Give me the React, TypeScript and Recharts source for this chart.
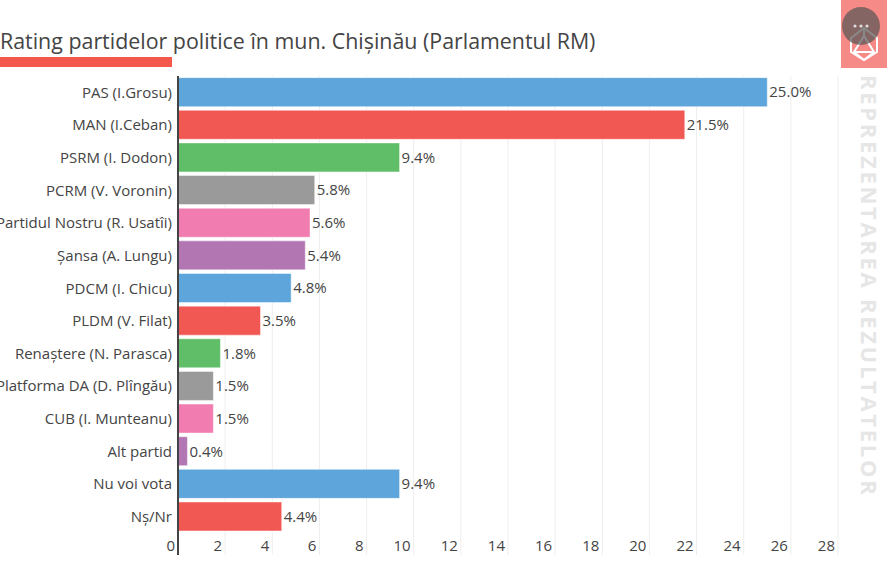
import React from "react";
import { BarChart, Bar, XAxis, YAxis, CartesianGrid, Cell, LabelList } from "recharts";

const categories = [
  "PAS (I.Grosu)",
  "MAN (I.Ceban)",
  "PSRM (I. Dodon)",
  "PCRM (V. Voronin)",
  "Partidul Nostru (R. Usatîi)",
  "Șansa (A. Lungu)",
  "PDCM (I. Chicu)",
  "PLDM (V. Filat)",
  "Renaștere (N. Parasca)",
  "Platforma DA (D. Plîngău)",
  "CUB (I. Munteanu)",
  "Alt partid",
  "Nu voi vota",
  "Nș/Nr",
];

const values = [25.0, 21.5, 9.4, 5.8, 5.6, 5.4, 4.8, 3.5, 1.8, 1.5, 1.5, 0.4, 9.4, 4.4];

const xTicks = [0, 2, 4, 6, 8, 10, 12, 14, 16, 18, 20, 22, 24, 26, 28];

const COLORS = ["#5DA5DA", "#F15854", "#60BD68", "#9A9A9A", "#F17CB0", "#B276B2"];

const FONT = "'Open Sans', 'Noto Sans', sans-serif";
const PLOT_TOP = 76;
const PLOT_BOTTOM = 533;
const GRID_END = 555;

const data = categories.map((name, i) => ({ name, value: values[i] }));

const XTick = (props: any) => {
  const { x, payload } = props;
  const isZero = payload.value === 0;
  return (
    <g>
      {isZero ? (
        <line x1={x} x2={x} y1={PLOT_TOP} y2={GRID_END} stroke="#444" strokeWidth={2} />
      ) : (
        <line x1={x} x2={x} y1={PLOT_BOTTOM} y2={GRID_END} stroke="#eee" strokeWidth={1} />
      )}
      <text x={x - 3} y={551} textAnchor="end" fill="#444" fontSize={15} fontFamily={FONT}>
        {payload.value}
      </text>
    </g>
  );
};

const Logo = () => (
  <svg width={46} height={68} style={{ position: "absolute", left: 841, top: 0 }}>
    <rect x={0} y={0} width={46} height={68} fill="#F58A86" />
    <g stroke="#fff" strokeWidth={2} fill="none">
      <polygon points="23,28 36,38 36,52 23,60 10,52 10,38" />
      <polygon points="23,36 33,52 13,52" />
      <line x1={23} y1={28} x2={23} y2={36} />
      <line x1={23} y1={60} x2={13} y2={52} />
      <line x1={23} y1={60} x2={33} y2={52} />
    </g>
    <circle cx={20} cy={26} r={19} fill="#555" opacity={0.7} />
    <circle cx={14} cy={26} r={1.6} fill="#ddd" />
    <circle cx={20} cy={26} r={1.6} fill="#ddd" />
    <circle cx={26} cy={26} r={1.6} fill="#ddd" />
  </svg>
);

export default function App() {
  return (
    <div
      style={{
        position: "fixed",
        left: 0,
        top: 0,
        width: 887,
        height: 565,
        overflow: "hidden",
        background: "#fff",
        fontFamily: FONT,
      }}
    >
      <div
        style={{
          position: "absolute",
          left: 0,
          top: 26,
          fontSize: 21.4,
          color: "#444",
          whiteSpace: "nowrap",
          lineHeight: "30px",
        }}
      >
        Rating partidelor politice în mun. Chișinău (Parlamentul RM)
      </div>
      <div style={{ position: "absolute", left: 0, top: 57, width: 172, height: 10, background: "#F4574B" }} />
      <div style={{ position: "absolute", left: 0, top: 0 }}>
        <BarChart
          width={887}
          height={565}
          data={data}
          layout="vertical"
          margin={{ top: PLOT_TOP, right: 49, bottom: 0, left: 0 }}
          barCategoryGap="5%"
        >
          <CartesianGrid horizontal={false} stroke="#eee" />
          <XAxis
            type="number"
            domain={[0, 28]}
            ticks={xTicks}
            axisLine={false}
            tickLine={false}
            height={32}
            tick={<XTick />}
            interval={0}
          />
          <YAxis
            type="category"
            dataKey="name"
            width={178}
            axisLine={false}
            tickLine={false}
            tickSize={0}
            tickMargin={6}
            interval={0}
            tick={{ fill: "#444", fontSize: 15, fontFamily: FONT }}
          />
          <Bar dataKey="value" isAnimationActive={false} stroke="rgba(255,255,255,0.45)" strokeWidth={1}>
            {data.map((_, i) => (
              <Cell key={i} fill={COLORS[i % COLORS.length]} />
            ))}
            <LabelList
              dataKey="value"
              position="right"
              offset={2}
              fill="#444"
              fontSize={15}
              fontFamily={FONT}
              formatter={(v: any) => `${Number(v).toFixed(1)}%`}
            />
          </Bar>
        </BarChart>
      </div>
      <div
        style={{
          position: "absolute",
          left: 881,
          top: 75,
          transform: "rotate(90deg)",
          transformOrigin: "0 0",
          fontSize: 22,
          fontWeight: 700,
          letterSpacing: 2.7,
          color: "#e6e6e6",
          whiteSpace: "nowrap",
          lineHeight: "22px",
        }}
      >
        REPREZENTAREA REZULTATELOR
      </div>
      <Logo />
    </div>
  );
}
